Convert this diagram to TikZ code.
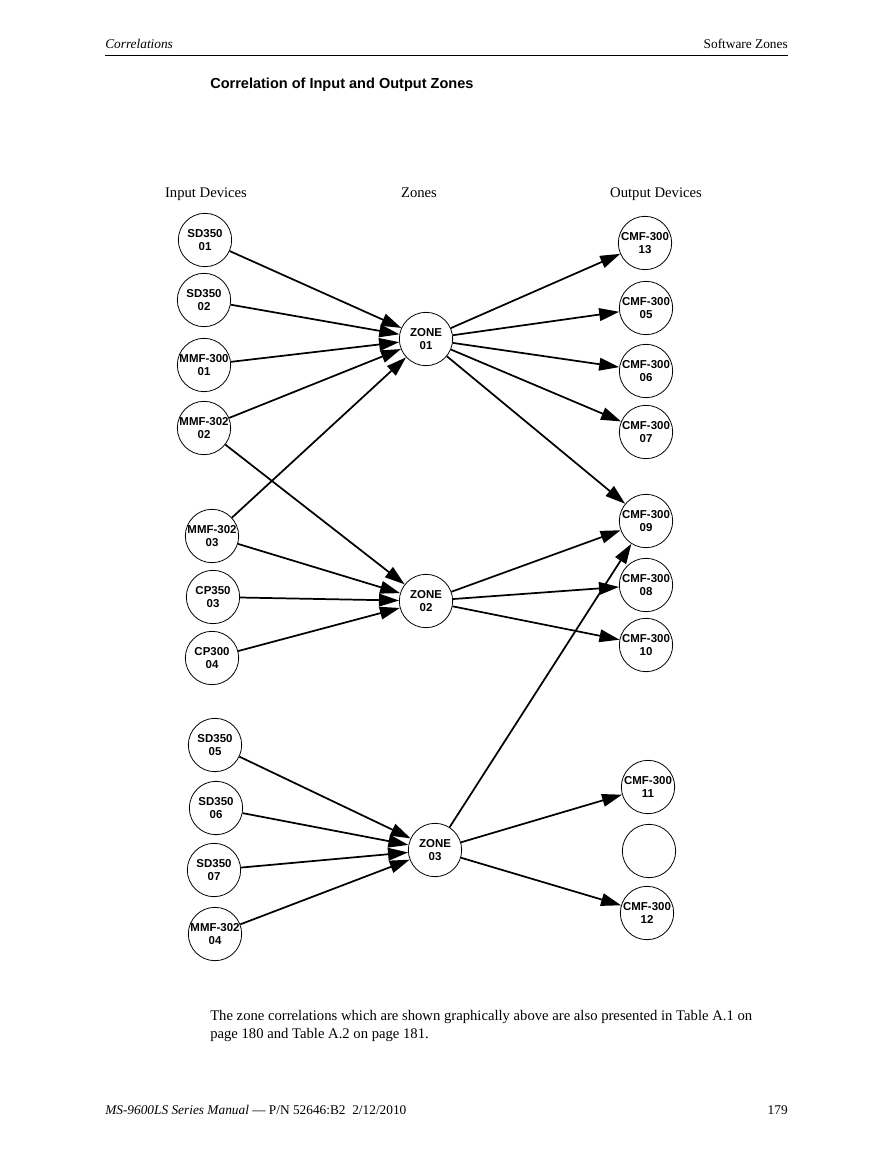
\documentclass[tikz,border=0pt]{standalone}
\usepackage{fontspec}
\setmainfont{Liberation Serif}
\setsansfont{Liberation Sans}
\usetikzlibrary{arrows.meta}

\begin{document}
\begin{tikzpicture}[x=0.75pt, y=-0.75pt,
      dev/.style={draw, circle, line width=0.6pt, minimum size=40pt, inner sep=0pt,
         align=center, font=\sffamily\bfseries\fontsize{8.6}{9.6}\selectfont},
      link/.style={line width=1.3pt, -{Triangle[length=15pt, width=9.5pt]}},
      txt/.style={inner sep=0pt, font=\fontsize{10}{12}\selectfont},
      colhead/.style={inner sep=0pt, anchor=base, font=\fontsize{11}{13}\selectfont}]
   \useasboundingbox (0,0) rectangle (892,1155);

   % page header and footer
   \node[txt, anchor=base west, font=\itshape\fontsize{10}{12}\selectfont] (hl) at (105,49) {Correlations};
   \node[txt, anchor=base east] (hr) at (788,49) {Software Zones};
   \draw[line width=0.6pt] (105,55) -- (788,55);
   \node[txt, anchor=base west, font=\sffamily\bfseries\fontsize{10.9}{13}\selectfont] (title) at (210,89)
      {Correlation of Input and Output Zones};

   \node[colhead] (hin) at (206,198) {Input Devices};
   \node[colhead] (hz) at (419,198) {Zones};
   \node[colhead] (hout) at (656,198) {Output Devices};

   % input devices
   \node[dev] (S1) at (205,240) {SD350\\01};
   \node[dev] (S2) at (204,300) {SD350\\02};
   \node[dev] (M1) at (204,365) {MMF-300\\01};
   \node[dev] (M2) at (204,428) {MMF-302\\02};
   \node[dev] (M3) at (212,536) {MMF-302\\03};
   \node[dev] (P3) at (213,597) {CP350\\03};
   \node[dev] (P4) at (212,658) {CP300\\04};
   \node[dev] (S5) at (215,745) {SD350\\05};
   \node[dev] (S6) at (216,808) {SD350\\06};
   \node[dev] (S7) at (214,870) {SD350\\07};
   \node[dev] (M4) at (215,934) {MMF-302\\04};

   % zones
   \node[dev] (Z1) at (426,339) {ZONE\\01};
   \node[dev] (Z2) at (426,601) {ZONE\\02};
   \node[dev] (Z3) at (435,850) {ZONE\\03};

   % output devices
   \node[dev] (C13) at (645,243) {CMF-300\\13};
   \node[dev] (C5) at (646,308) {CMF-300\\05};
   \node[dev] (C6) at (646,371) {CMF-300\\06};
   \node[dev] (C7) at (646,432) {CMF-300\\07};
   \node[dev] (C9) at (646,521) {CMF-300\\09};
   \node[dev] (C8) at (646,585) {CMF-300\\08};
   \node[dev] (C10) at (646,645) {CMF-300\\10};
   \node[dev] (C11) at (648,787) {CMF-300\\11};
   \node[dev] (E) at (649,851) {};
   \node[dev] (C12) at (647,913) {CMF-300\\12};

   % inputs to zones
   \draw[link] (S1) -- (Z1);
   \draw[link] (S2) -- (Z1);
   \draw[link] (M1) -- (Z1);
   \draw[link] (M2) -- (Z1);
   \draw[link] (M3) -- (Z1);
   \draw[link] (M2) -- (Z2);
   \draw[link] (M3) -- (Z2);
   \draw[link] (P3) -- (Z2);
   \draw[link] (P4) -- (Z2);
   \draw[link] (S5) -- (Z3);
   \draw[link] (S6) -- (Z3);
   \draw[link] (S7) -- (Z3);
   \draw[link] (M4) -- (Z3);

   % zones to outputs
   \draw[link] (Z1) -- (C13);
   \draw[link] (Z1) -- (C5);
   \draw[link] (Z1) -- (C6);
   \draw[link] (Z1) -- (C7);
   \draw[link] (Z1) -- (C9);
   \draw[link] (Z2) -- (C9);
   \draw[link] (Z2) -- (C8);
   \draw[link] (Z2) -- (C10);
   \draw[link] (Z3) -- (C9);
   \draw[link] (Z3) -- (C11);
   \draw[link] (Z3) -- (C12);

   \node[anchor=north west, align=left, inner sep=0pt, font=\fontsize{11}{13.5}\selectfont] (note) at (210,1010)
      {The zone correlations which are shown graphically above are also presented in Table A.1 on\\
       page 180 and Table A.2 on page 181.};

   \node[txt, anchor=base west] (fl) at (105,1114)
      {\textit{MS-9600LS Series Manual} --- P/N 52646:B2\ \ 2/12/2010};
   \node[txt, anchor=base east] (fr) at (788,1114) {179};
\end{tikzpicture}
\end{document}
